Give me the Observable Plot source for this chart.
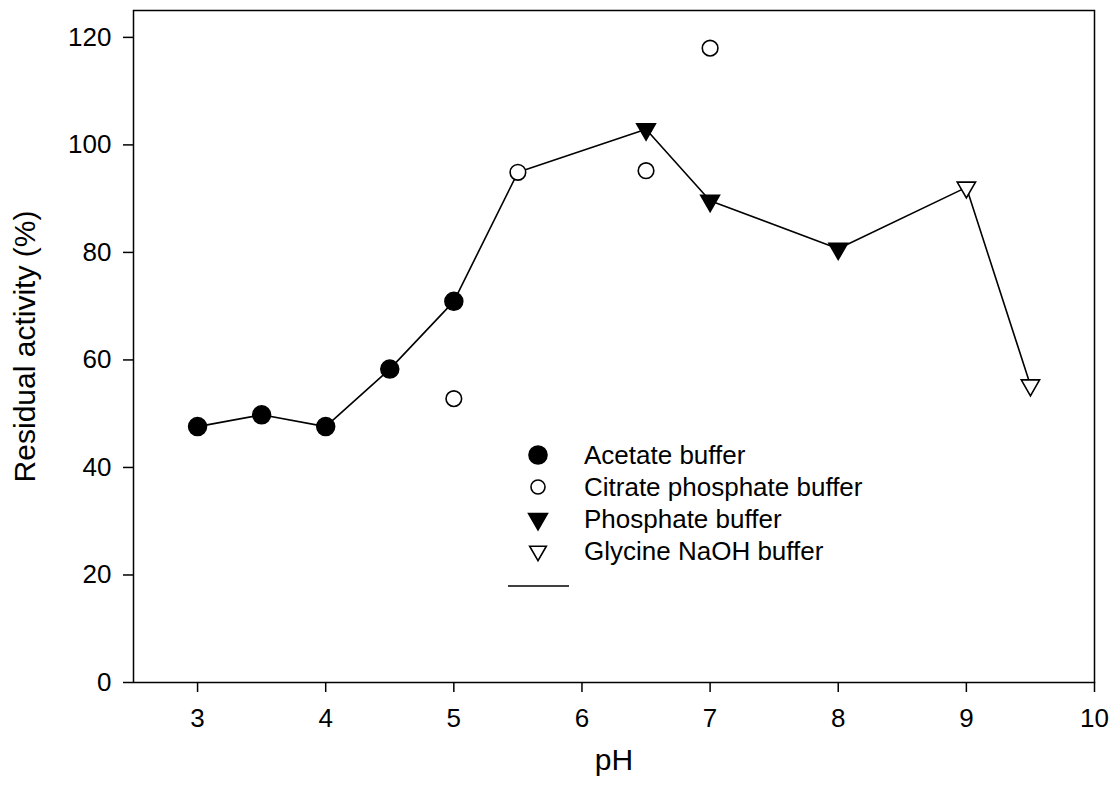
<!DOCTYPE html>
<html>
<head>
<meta charset="utf-8">
<script src="https://cdn.jsdelivr.net/npm/d3@7"></script>
<script src="https://cdn.jsdelivr.net/npm/@observablehq/plot@0.6"></script>
<style>
  body { margin: 0; background: #fff; }
  #wrap { position: relative; width: 1112px; height: 794px; font-family: "Liberation Sans", Arial, sans-serif; }
  #legend { position: absolute; left: 0; top: 0; pointer-events: none; }
</style>
</head>
<body>
<div id="wrap"></div>
<script>
// ---- Data ----
const acetatePH = [3, 3.5, 4, 4.5, 5];
const acetateAct = [47.6, 49.8, 47.6, 58.3, 70.9];
const citratePH = [5, 5.5, 6.5, 7];
const citrateAct = [52.8, 94.9, 95.2, 118];
const phosphatePH = [6.5, 7, 8];
const phosphateAct = [102.9, 89.6, 80.7];
const glycinePH = [9, 9.5];
const glycineAct = [92.1, 55.3];
const linePH = [3, 3.5, 4, 4.5, 5, 5.5, 6.5, 7, 8, 9, 9.5];
const lineAct = [47.6, 49.8, 47.6, 58.3, 70.9, 94.9, 102.9, 89.6, 80.7, 92.1, 55.3];
const xTicks = [3, 4, 5, 6, 7, 8, 9, 10];
const yTicks = [0, 20, 40, 60, 80, 100, 120];
const legendLabels = ["Acetate buffer", "Citrate phosphate buffer", "Phosphate buffer", "Glycine NaOH buffer"];

const zip = (xs, ys) => xs.map((x, i) => ({x, y: ys[i]}));
const acetate = zip(acetatePH, acetateAct);
const citrate = zip(citratePH, citrateAct);
const phosphate = zip(phosphatePH, phosphateAct);
const glycine = zip(glycinePH, glycineAct);
const line = zip(linePH, lineAct);

const W = 1112, H = 794;
const FONT = '"Liberation Sans", Arial, sans-serif';
const plot = Plot.plot({
  width: W, height: H,
  marginLeft: 133, marginRight: 18, marginTop: 10, marginBottom: 112,
  style: {fontFamily: FONT, fontSize: "26px", color: "#000", background: "#fff"},
  x: {domain: [2.5, 10], label: null},
  y: {domain: [0, 125], label: null},
  marks: [
    Plot.frame({stroke: "#000", strokeWidth: 1.5, strokeOpacity: 1}),
    Plot.axisX({ticks: xTicks, tickSize: 10, tickPadding: 16, stroke: "#000", strokeWidth: 1.5, strokeOpacity: 1, fontSize: 26, label: null}),
    Plot.axisY({ticks: yTicks, tickSize: 10, tickPadding: 12, stroke: "#000", strokeWidth: 1.5, strokeOpacity: 1, fontSize: 26, label: null}),
    Plot.line(line, {x: "x", y: "y", stroke: "#000", strokeWidth: 1.6}),
    Plot.dot(acetate, {x: "x", y: "y", r: 9, symbol: "circle", fill: "#000", stroke: "#000"}),
    Plot.dot(citrate, {x: "x", y: "y", r: 7.8, symbol: "circle", fill: "#fff", stroke: "#000", strokeWidth: 1.6}),
    Plot.dot(phosphate, {x: "x", y: "y", r: 7.0, symbol: "triangle", rotate: 180, fill: "#000", stroke: "#000"}),
    Plot.dot(glycine, {x: "x", y: "y", r: 6.8, symbol: "triangle", rotate: 180, fill: "#fff", stroke: "#000", strokeWidth: 1.6}),
    Plot.text(["pH"], {frameAnchor: "bottom", lineAnchor: "middle", dy: 78, fontSize: 30, fill: "#000"}),
    Plot.text(["Residual activity (%)"], {frameAnchor: "left", textAnchor: "middle", lineAnchor: "middle", dx: -108, rotate: -90, fontSize: 30, fill: "#000"})
  ]
});
const wrap = document.getElementById("wrap");
wrap.appendChild(plot);

// ---- Legend overlay ----
const leg = d3.select(wrap).append("svg").attr("id", "legend").attr("width", W).attr("height", H);
const symbols = [
  {type: d3.symbolCircle, r: 9, fill: "#000", rot: 0},
  {type: d3.symbolCircle, r: 7, fill: "#fff", rot: 0},
  {type: d3.symbolTriangle, r: 7.0, fill: "#000", rot: 180},
  {type: d3.symbolTriangle, r: 6.2, fill: "#fff", rot: 180}
];
const lx = 538, tx = 584, ly0 = 455, dyRow = 32;
legendLabels.forEach((lab, i) => {
  const s = symbols[i];
  const y = ly0 + i * dyRow;
  leg.append("path")
    .attr("d", d3.symbol(s.type, Math.PI * s.r * s.r)())
    .attr("transform", `translate(${lx},${y}) rotate(${s.rot})`)
    .attr("fill", s.fill).attr("stroke", "#000").attr("stroke-width", 1.6);
  leg.append("text").attr("x", tx).attr("y", y).attr("dy", "0.35em")
    .attr("font-family", FONT).attr("font-size", 26)
    .attr("fill", "#000").text(lab);
});
leg.append("line").attr("x1", 508).attr("x2", 569).attr("y1", 586).attr("y2", 586)
  .attr("stroke", "#000").attr("stroke-width", 1.6);
</script>
</body>
</html>
